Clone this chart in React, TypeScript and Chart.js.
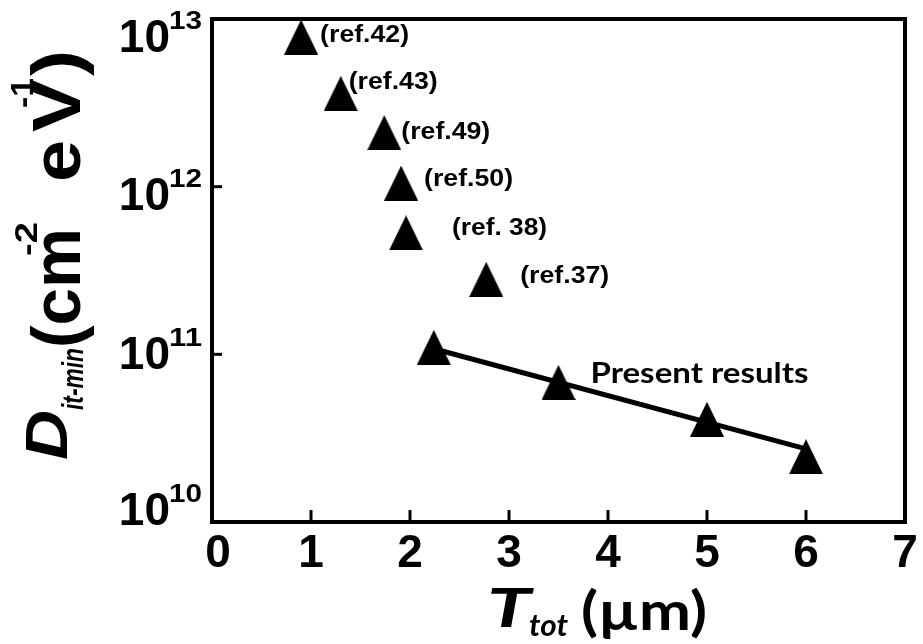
import React, { useEffect, useRef } from "react";
import { Chart, registerables } from "chart.js";

Chart.register(...registerables);

// ---------- data ----------
const refLabels = ["(ref.42)", "(ref.43)", "(ref.49)", "(ref.50)", "(ref. 38)", "(ref.37)"];
const refX = [0.9, 1.3, 1.74, 1.91, 1.96, 2.77];
const refY = [7.8e12, 3.6e12, 2.1e12, 1.05e12, 5.3e11, 2.8e11];

const presentX = [2.24, 3.5, 5.0, 6.0];
const presentY = [1.1e11, 6.8e10, 4.1e10, 2.45e10];
const presentLabel = "Present results";

const fitX = [2.24, 6.0];
const fitY = [1.08e11, 2.73e10];

const xTicks = [0, 1, 2, 3, 4, 5, 6, 7];
const yTickExponents = [10, 11, 12, 13];

// ---------- styling ----------
const ARIAL = '"Liberation Sans", Arial, sans-serif';
const CAL = 'Lato, "Open Sans", sans-serif';
// label offsets relative to their point (pixels)
const refLabelOffsets = [
  [19, -3],
  [8, -12],
  [17, -2],
  [23, -5],
  [46, -6],
  [34, -4],
];
const yLabelShift = [-13, -1, 7, 17];

function drawFit(
  ctx: CanvasRenderingContext2D,
  text: string,
  x: number,
  y: number,
  font: string,
  width?: number,
  align: "left" | "center" | "right" = "left"
) {
  ctx.font = font;
  const w = ctx.measureText(text).width;
  const s = width ? width / w : 1;
  const dw = w * s;
  let x0 = x;
  if (align === "center") x0 = x - dw / 2;
  else if (align === "right") x0 = x - dw;
  ctx.save();
  ctx.translate(x0, y);
  ctx.scale(s, 1);
  ctx.textAlign = "left";
  ctx.textBaseline = "alphabetic";
  ctx.fillText(text, 0, 0);
  ctx.restore();
}

const overlay = {
  id: "overlay",
  afterDraw(chart: any) {
    const { ctx, chartArea: a, scales } = chart;
    const xs = scales.x;
    const ys = scales.y;
    ctx.save();
    ctx.fillStyle = "#000";
    ctx.strokeStyle = "#000";

    // frame
    ctx.lineWidth = 4;
    ctx.strokeRect(a.left, a.top, a.right - a.left, a.bottom - a.top);

    // x ticks (inward)
    ctx.lineWidth = 3;
    xTicks.forEach((v, i) => {
      if (i === 0 || i === xTicks.length - 1) return;
      const px = xs.getPixelForValue(v);
      ctx.beginPath();
      ctx.moveTo(px, a.bottom);
      ctx.lineTo(px, a.bottom - 12);
      ctx.stroke();
    });
    // y ticks (inward)
    yTickExponents.forEach((e, i) => {
      if (i === 0 || i === yTickExponents.length - 1) return;
      const py = ys.getPixelForValue(Math.pow(10, e));
      ctx.beginPath();
      ctx.moveTo(a.left, py);
      ctx.lineTo(a.left + 10, py);
      ctx.stroke();
    });

    // x tick labels
    const xFont = `bold 46px ${ARIAL}`;
    xTicks.forEach((v, i) => {
      let px = xs.getPixelForValue(v);
      ctx.font = xFont;
      const w = ctx.measureText(String(v)).width;
      if (i === 0) px += 6;
      if (px + w / 2 > chart.width - 1) px = chart.width - 1 - w / 2;
      drawFit(ctx, String(v), px, 567, xFont, undefined, "center");
    });

    // y tick labels 10^n
    yTickExponents.forEach((e, i) => {
      const py = ys.getPixelForValue(Math.pow(10, e));
      const base = py + yLabelShift[i] + 16;
      drawFit(ctx, "10", 170, base, `bold 46px ${ARIAL}`, undefined, "right");
      drawFit(ctx, String(e), 169, base - 23, `bold 26px ${ARIAL}`, 33, "left");
    });

    // reference labels
    refLabels.forEach((t, i) => {
      const px = xs.getPixelForValue(refX[i]) + refLabelOffsets[i][0];
      const py = ys.getPixelForValue(refY[i]) + refLabelOffsets[i][1];
      drawFit(ctx, t, px, py + 8, `bold 23px ${ARIAL}`, t.length > 8 ? 95 : 89, "left");
    });

    // present results label
    {
      const px = xs.getPixelForValue(presentX[1]) + 32;
      const py = ys.getPixelForValue(presentY[1]) + 1;
      drawFit(ctx, presentLabel, px, py, `bold 28px ${CAL}`, 218, "left");
    }

    // x axis title: T_tot (µm)
    drawFit(ctx, "T", 487, 627, `italic bold 53px ${CAL}`, 44, "left");
    drawFit(ctx, "tot", 529, 636, `italic bold 30px ${CAL}`, 39, "left");
    drawFit(ctx, "(\u00b5m)", 581, 630, `bold 54px ${CAL}`, 126, "left");

    // y axis title (rotated)
    ctx.save();
    ctx.translate(80, 460);
    ctx.rotate(-Math.PI / 2);
    drawFit(ctx, "D", 0, -13, `italic bold 60px ${ARIAL}`, 50, "left");
    drawFit(ctx, "it-min", 50, 3, `italic bold 30px ${ARIAL}`, 62, "left");
    drawFit(ctx, "(cm", 112, 0, `bold 68px ${ARIAL}`, 120, "left");
    drawFit(ctx, "-2", 204, -43, `bold 32px ${ARIAL}`, 34, "left");
    drawFit(ctx, "e", 278, 0, `bold 68px ${ARIAL}`, 42, "left");
    drawFit(ctx, "V", 328, 0, `bold 68px ${ARIAL}`, 52, "left");
    drawFit(ctx, "-1", 352, -47, `bold 32px ${ARIAL}`, 30, "left");
    drawFit(ctx, ")", 384, 0, `bold 68px ${ARIAL}`, 26, "left");
    ctx.restore();

    ctx.restore();
  },
};

function makeTriangle(): HTMLCanvasElement {
  const c = document.createElement("canvas");
  c.width = 34;
  c.height = 35;
  const g = c.getContext("2d")!;
  g.fillStyle = "#000";
  g.beginPath();
  g.moveTo(17, 0);
  g.lineTo(34, 35);
  g.lineTo(0, 35);
  g.closePath();
  g.fill();
  return c;
}

export default function App() {
  const ref = useRef<HTMLCanvasElement | null>(null);

  useEffect(() => {
    if (!ref.current) return;
    const tri = makeTriangle();
    const chart = new Chart(ref.current, {
      type: "scatter",
      data: {
        datasets: [
          {
            label: "refs",
            data: refX.map((x, i) => ({ x, y: refY[i] })),
            pointStyle: tri as any,
            pointRadius: 17,
            showLine: false,
            clip: false as any,
          },
          {
            label: "present",
            data: presentX.map((x, i) => ({ x, y: presentY[i] })),
            pointStyle: tri as any,
            pointRadius: 17,
            showLine: false,
            clip: false as any,
          },
          {
            label: "fit",
            data: fitX.map((x, i) => ({ x, y: fitY[i] })),
            showLine: true,
            borderColor: "#000",
            borderWidth: 5,
            pointRadius: 0,
            clip: false as any,
          },
        ],
      },
      options: {
        responsive: false,
        animation: false,
        devicePixelRatio: 1,
        events: [],
        layout: { padding: { left: 212, right: 6, top: 19, bottom: 122 } },
        plugins: { legend: { display: false }, tooltip: { enabled: false } },
        scales: {
          x: { type: "linear", min: 0, max: 7, display: false },
          y: { type: "logarithmic", min: 1e10, max: 1e13, display: false },
        },
      },
      plugins: [overlay],
    });
    return () => chart.destroy();
  }, []);

  return (
    <div style={{ position: "absolute", left: 0, top: 0, width: 923, height: 644, background: "#fff" }}>
      <canvas ref={ref} width={923} height={644} style={{ display: "block" }} />
    </div>
  );
}
